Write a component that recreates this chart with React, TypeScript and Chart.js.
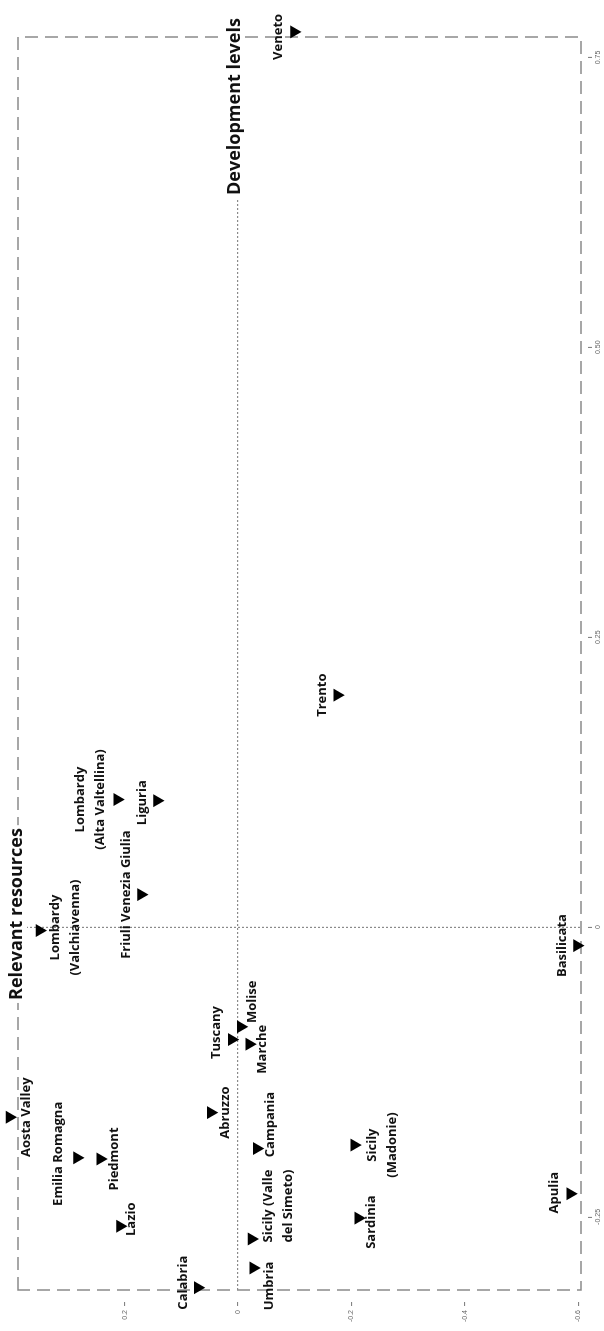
import React, { useEffect, useRef } from 'react';
import { Chart, registerables } from 'chart.js';

Chart.register(...registerables);

// ---- data ----
const regionNames: string[][] = [
  ['Veneto'],
  ['Trento'],
  ['Lombardy', '(Alta Valtellina)'],
  ['Liguria'],
  ['Friuli Venezia Giulia'],
  ['Lombardy', '(Valchiavenna)'],
  ['Basilicata'],
  ['Molise'],
  ['Tuscany'],
  ['Marche'],
  ['Aosta Valley'],
  ['Abruzzo'],
  ['Emilia Romagna'],
  ['Piedmont'],
  ['Campania'],
  ['Sicily', '(Madonie)'],
  ['Lazio'],
  ['Sardinia'],
  ['Apulia'],
  ['Sicily (Valle', 'del Simeto)'],
  ['Umbria'],
  ['Calabria'],
];

const developmentLevels: number[] = [
  0.772, 0.2, 0.11, 0.109, 0.028, -0.003, -0.016, -0.086, -0.097, -0.101, -0.164,
  -0.16, -0.199, -0.2, -0.191, -0.188, -0.258, -0.251, -0.23, -0.269, -0.294, -0.311,
];

const relevantResources: number[] = [
  -0.099, -0.175, 0.213, 0.143, 0.171, 0.35, -0.598, -0.005, 0.011, -0.02, 0.403,
  0.048, 0.284, 0.243, -0.033, -0.205, 0.208, -0.212, -0.586, -0.024, -0.027, 0.071,
];

const developmentTicks: number[] = [-0.25, 0, 0.25, 0.5, 0.75];
const resourceTicks: number[] = [-0.6, -0.4, -0.2, 0, 0.2];

const developmentTitle = 'Development levels';
const resourcesTitle = 'Relevant resources';

// ---- label placement (style: offsets of the label block from its marker) ----
const labelOffsets: [number, number][] = [
  [-5, -16], [0, -15], [0, -27], [-2, -15], [0, -15], [3, 26], [0, -15], [25, 11],
  [7, -15], [-5, 13], [0, 17], [0, 15], [4, -19], [0, 14], [24, 14], [0, 28],
  [7, 11], [-4, 13], [1, -16], [33, 27], [-18, 16], [5, -14],
];

const W = 1331;
const H = 604;
const LABEL_FONT = 'bold 13px "Open Sans", "Noto Sans", sans-serif';
const TITLE_FONT = 'bold 18px "Open Sans", "Noto Sans", sans-serif';

const framePlugin = {
  id: 'dashedFrame',
  beforeDatasetsDraw(chart: any) {
    const { ctx, chartArea } = chart;
    ctx.save();
    ctx.strokeStyle = '#8a8a8a';
    ctx.lineWidth = 1.5;
    ctx.setLineDash([13, 7]);
    ctx.strokeRect(chartArea.left, chartArea.top, chartArea.right - chartArea.left, chartArea.bottom - chartArea.top);
    ctx.restore();
  },
};

const labelPlugin = {
  id: 'pointLabels',
  afterDatasetsDraw(chart: any) {
    const { ctx } = chart;
    const meta = chart.getDatasetMeta(0);
    ctx.save();
    ctx.font = LABEL_FONT;
    ctx.fillStyle = '#111';
    ctx.textAlign = 'center';
    ctx.textBaseline = 'middle';
    const lh = 20;
    meta.data.forEach((el: any, i: number) => {
      const lines = regionNames[i];
      const [dx, dy] = labelOffsets[i];
      const n = lines.length;
      lines.forEach((line, j) => {
        ctx.fillText(line, el.x + dx, el.y + dy + (j - (n - 1) / 2) * lh);
      });
    });
    ctx.restore();
  },
};

const titlePlugin = {
  id: 'axisTitles',
  afterDraw(chart: any) {
    const { ctx, chartArea, scales } = chart;
    ctx.save();
    ctx.font = TITLE_FONT;
    ctx.textBaseline = 'middle';
    // Development levels: at the end of the resources = 0 line
    const y0 = scales.y.getPixelForValue(0) - 3;
    const x1 = chartArea.right - 158;
    const w1 = ctx.measureText(developmentTitle).width;
    ctx.fillStyle = '#fff';
    ctx.fillRect(x1 - 3, y0 - 10, w1 + 6, 20);
    ctx.fillStyle = '#111';
    ctx.textAlign = 'left';
    ctx.fillText(developmentTitle, x1, y0);
    // Relevant resources: at the top of the development = 0 line
    const x0 = scales.x.getPixelForValue(0) + 13;
    const yt = chartArea.top - 1;
    const w2 = ctx.measureText(resourcesTitle).width;
    ctx.fillStyle = '#fff';
    ctx.fillRect(x0 - w2 / 2 - 3, yt - 10, w2 + 6, 20);
    ctx.fillStyle = '#111';
    ctx.textAlign = 'center';
    ctx.fillText(resourcesTitle, x0, yt);
    ctx.restore();
  },
};

export default function App() {
  const canvasRef = useRef<HTMLCanvasElement | null>(null);

  useEffect(() => {
    const canvas = canvasRef.current;
    if (!canvas) return;
    const points = developmentLevels.map((d, i) => ({ x: d, y: relevantResources[i] }));
    const chart = new Chart(canvas, {
      type: 'scatter',
      data: {
        datasets: [
          {
            data: points,
            pointStyle: 'triangle',
            pointRotation: 180,
            pointRadius: 7.5,
            pointHoverRadius: 14,
            pointBackgroundColor: '#000',
            pointBorderColor: '#000',
            pointBorderWidth: 0,
            showLine: false,
            clip: false,
          } as any,
        ],
      },
      options: {
        responsive: false,
        animation: false,
        events: [],
        layout: { padding: { top: 18, right: 37, left: 0, bottom: 0 } },
        plugins: { legend: { display: false }, tooltip: { enabled: false } },
        scales: {
          x: {
            type: 'linear',
            min: -0.313,
            max: 0.7676,
            afterBuildTicks: (scale: any) => {
              scale.ticks = developmentTicks.map((v) => ({ value: v }));
            },
            afterFit: (scale: any) => {
              scale.height = 23;
            },
            border: { display: false, dash: [2, 2] },
            grid: {
              color: (c: any) => (c.tick && c.tick.value === 0 ? '#8a8a8a' : 'rgba(0,0,0,0)'),
              lineWidth: 1.2,
              drawTicks: true,
              tickLength: 11,
              tickColor: '#777',
              tickWidth: 1,
              tickBorderDash: [4, 7],
              tickBorderDashOffset: 4,
            },
            ticks: {
              autoSkip: false,
              maxRotation: 0,
              minRotation: 0,
              padding: 2,
              color: '#666',
              font: { size: 7, family: '"Liberation Sans", sans-serif' },
              callback: (v: any) => (Number(v) === 0 ? '0' : Number(v).toFixed(2)),
            },
          },
          y: {
            type: 'linear',
            min: -0.605,
            max: 0.388,
            afterBuildTicks: (scale: any) => {
              scale.ticks = resourceTicks.map((v) => ({ value: v }));
            },
            afterFit: (scale: any) => {
              scale.width = 41;
            },
            border: { display: false, dash: [2, 2] },
            grid: {
              color: (c: any) => (c.tick && c.tick.value === 0 ? '#8a8a8a' : 'rgba(0,0,0,0)'),
              lineWidth: 1.2,
              drawTicks: true,
              tickLength: 16,
              tickColor: '#777',
              tickWidth: 1,
              tickBorderDash: [4, 12],
              tickBorderDashOffset: 0,
            },
            ticks: {
              autoSkip: false,
              padding: 4,
              color: '#666',
              font: { size: 7, family: '"Liberation Sans", sans-serif' },
              callback: (v: any) => (Number(v) === 0 ? '0' : Number(v).toFixed(1)),
            },
          },
        },
      },
      plugins: [framePlugin, labelPlugin, titlePlugin],
    });
    return () => chart.destroy();
  }, []);

  return (
    <div
      style={{
        position: 'absolute',
        left: 0,
        top: 0,
        width: 604,
        height: 1331,
        overflow: 'hidden',
        background: '#fff',
      }}
    >
      <div
        style={{
          position: 'absolute',
          left: 0,
          top: 0,
          width: W,
          height: H,
          transformOrigin: '0 0',
          transform: `translate(0px, ${W}px) rotate(-90deg)`,
        }}
      >
        <canvas ref={canvasRef} width={W} height={H} style={{ display: 'block', width: W, height: H }} />
      </div>
    </div>
  );
}
